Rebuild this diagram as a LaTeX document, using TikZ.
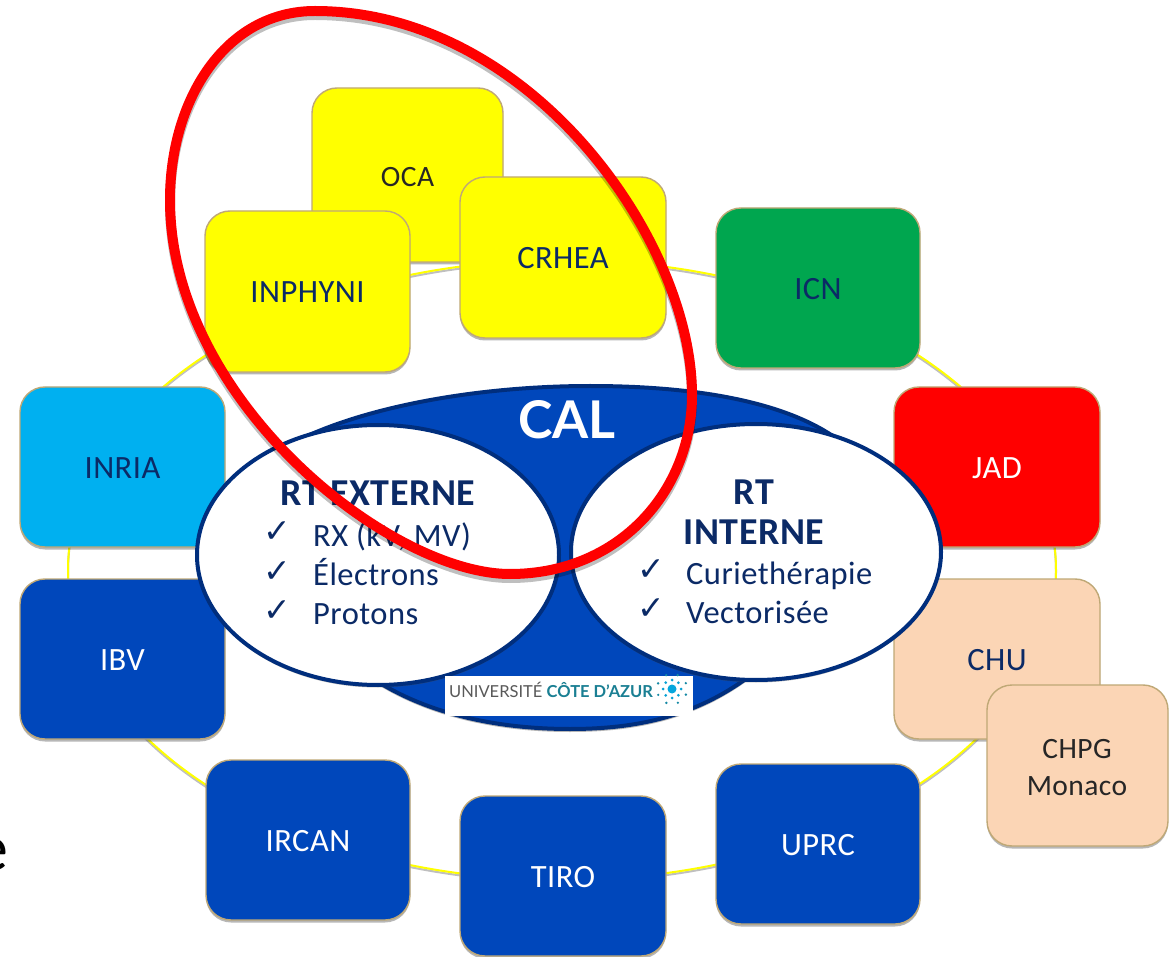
\documentclass[tikz,border=0pt]{standalone}
\usepackage{fontspec}
\setmainfont[LetterSpace=1.5]{Carlito}
\newfontfamily\latofont{Lato}
\newfontfamily\dejafont{DejaVu Sans}
\usetikzlibrary{shadows,shapes.geometric}
\definecolor{cblue}{HTML}{0047BB}
\definecolor{cnavy}{HTML}{0B2A66}
\definecolor{edgeblue}{HTML}{002E7D}
\definecolor{ctan}{HTML}{BFA876}
\definecolor{cpeach}{HTML}{FBD5B5}
\definecolor{cgreen}{HTML}{00A64F}
\definecolor{ccyan}{HTML}{00B0F0}
\definecolor{cyell}{HTML}{FFFF00}
\definecolor{cteal}{HTML}{1A7F93}
\tikzset{
  softshadow/.style={drop shadow={shadow xshift=0pt,shadow yshift=-2.5pt,opacity=.4,fill=black!70}},
  tile/.style={draw=ctan,line width=1.4pt,rounded corners=25pt,softshadow,inner sep=0pt,text height=23pt,text depth=0pt,font=\fontsize{32.5}{38}\selectfont,text=cnavy},
  whitetext/.style={text=white},
  darktext/.style={text=black!85,font=\fontsize{29.5}{37}\selectfont},
  itemtext/.style={anchor=base west,inner sep=0pt,text=cnavy,font=\fontsize{32.5}{38}\selectfont},
  headtext/.style={inner sep=0pt,anchor=base,text=cnavy,font=\fontsize{38}{44}\selectfont\bfseries},
  tick/.style={anchor=center,inner sep=0pt,text=cnavy,font=\dejafont\fontsize{33}{36}\selectfont},
  inner/.style={draw=edgeblue,line width=4pt,fill=white,ellipse,inner sep=0pt,softshadow},
  redline/.style={line width=10pt,line join=round},
}
\newcommand{\tilebox}[7][]{%
  \node[tile,#1,minimum width={#5-#3},minimum height={#6-#4}] (#2) at ({(#3+#5)/2},{(#4+#6)/2}) {#7};}
\newcommand{\redpath}{(315,11) .. controls (530,11) and (692,240) .. (692,395)
  .. controls (692,490) and (620,574) .. (510,574)
  .. controls (390,574) and (170,400) .. (170,200)
  .. controls (170,100) and (225,11) .. (315,11) -- cycle}
\begin{document}
\begin{tikzpicture}[x=1pt,y=-1pt]
\useasboundingbox (0,0) rectangle (1176,957);
\fill[white] (0,0) rectangle (1176,957);
% stray letter
\node[inner sep=0pt,anchor=east,font=\fontsize{66}{70}\selectfont\rmfamily] (stray) at (9,855) {e};
% ring
\draw[black!25,line width=2pt] (562,572) ellipse[x radius=494,y radius=310];
\draw[cyell,line width=2pt] (562,570) ellipse[x radius=494,y radius=310];
% tiles
\tilebox[fill=cyell,darktext]{oca}{312}{88}{503}{262}{OCA}
\tilebox[fill=cyell]{inphyni}{205}{211}{410}{372}{INPHYNI}
\tilebox[fill=cyell]{crhea}{460}{177}{666}{338}{CRHEA}
\tilebox[fill=cgreen]{icn}{716}{208}{920}{368}{ICN}
\tilebox[fill=red,whitetext]{jad}{894}{387}{1100}{547}{JAD}
\tilebox[fill=cpeach]{chu}{894}{579}{1100}{739}{CHU}
\tilebox[fill=cpeach]{chpg}{987}{685}{1168}{846}{}
\node[darktext,inner sep=0pt,align=center] (chpgtext) at (1077,768) {CHPG\\Monaco};
\tilebox[fill=cblue,whitetext]{uprc}{716}{764}{920}{924}{UPRC}
\tilebox[fill=cblue,whitetext]{tiro}{460}{796}{666}{956}{TIRO}
\tilebox[fill=cblue,whitetext]{ircan}{206}{760}{410}{920}{IRCAN}
\tilebox[fill=cblue,whitetext]{ibv}{20}{579}{225}{739}{IBV}
\tilebox[fill=ccyan]{inria}{20}{387}{225}{547}{INRIA}
% CAL body
\path[draw=edgeblue,line width=4pt,fill=cblue,drop shadow={shadow xshift=0pt,shadow yshift=-3pt,opacity=.4,fill=black!70}]
  (270,456) .. controls (340,410) and (470,386) .. (590,386)
  .. controls (690,386) and (790,400) .. (845,445)
  -- (755,600) -- (755,672)
  .. controls (700,715) and (640,729) .. (570,729)
  .. controls (500,729) and (430,715) .. (375,680)
  -- (375,600) -- cycle;
\node[inner sep=0pt,text=white,font=\latofont\fontsize{52}{56}\selectfont\bfseries] (cal) at (567,420) {CAL};
% inner ellipses
\node[inner,minimum width=362pt,minimum height=260pt] (ext) at (378,555) {};
\node[inner,minimum width=370pt,minimum height=256pt] (int) at (756,552) {};
\node[headtext] (exthead) at (378,505) {RT EXTERNE};
\node[tick] (t1) at (277,532) {✓};
\node[tick] (t2) at (277,572) {✓};
\node[tick] (t3) at (277,611) {✓};
\node[itemtext] (l1) at (313,546) {RX (kV, MV)};
\node[itemtext] (l2) at (313,585) {Électrons};
\node[itemtext] (l3) at (313,624) {Protons};
\node[headtext] (inthead1) at (754,504) {RT};
\node[headtext] (inthead2) at (754,544) {INTERNE};
\node[tick] (t4) at (651,570) {✓};
\node[tick] (t5) at (651,609) {✓};
\node[itemtext] (r1) at (686,584) {Curiethérapie};
\node[itemtext] (r2) at (686,623) {Vectorisée};
% logo
\node[fill=white,minimum width=248pt,minimum height=40pt,inner sep=0pt] (logo) at (569,696) {};
\node[anchor=west,inner sep=0pt,font=\latofont\fontsize{16.5}{20}\selectfont] (logotext) at (449,690)
  {\textcolor{black!65}{UNIVERSITÉ} \textcolor{cteal}{\bfseries CÔTE D’AZUR}};
\fill[ccyan!80!cteal] (672,689) circle (4.5);
\foreach \a in {0,45,...,315}{\fill[ccyan!70!cteal] (672,689) ++(\a:9) circle (1.5);}
\foreach \a in {22,67,...,337}{\fill[cteal!80!ccyan] (672,689) ++(\a:15) circle (1.3);}
% red ellipse
\draw[redline,black,opacity=.25] [yshift=-4pt] \redpath;
\draw[redline,red] \redpath;
\end{tikzpicture}
\end{document}
